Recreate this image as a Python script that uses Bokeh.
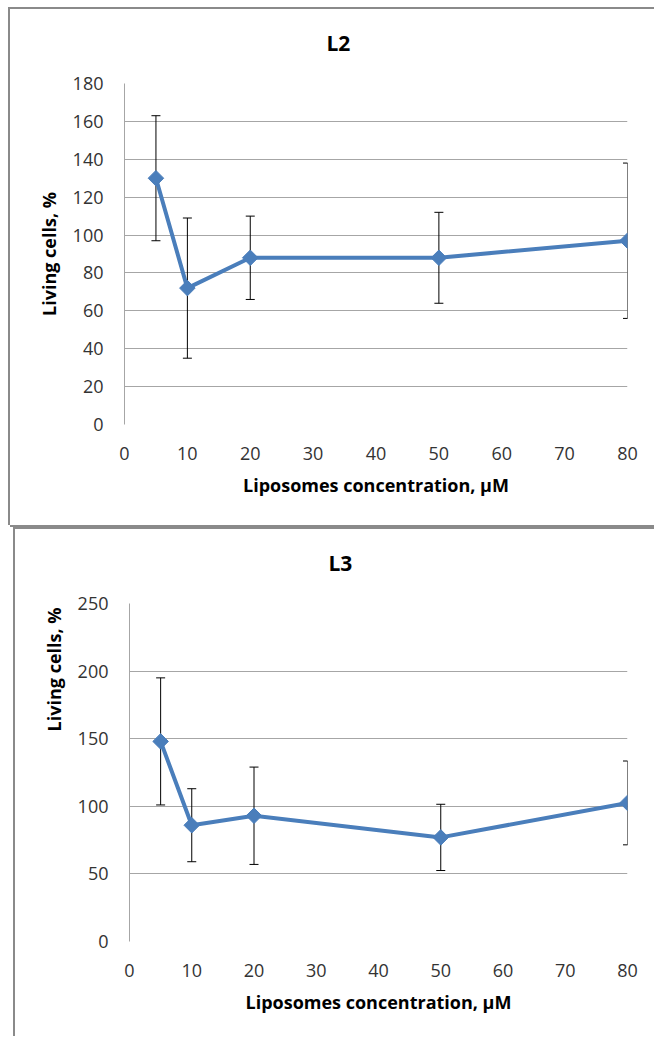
import numpy as np
from bokeh.plotting import figure
from bokeh.models import Range1d, FixedTicker, Title, ColumnDataSource
from bokeh.layouts import column
from bokeh.embed import file_html
from bokeh.resources import INLINE

# ---- data ----
conc = [5, 10, 20, 50, 80]
l2_mean = [130, 72, 88, 88, 97]
l2_err = [33, 37, 22, 24, 41]
l3_mean = [148, 86, 93, 77, 102.5]
l3_err = [47, 27, 36, 24.5, 31]
x_ticks = [0, 10, 20, 30, 40, 50, 60, 70, 80]
l2_y_ticks = [0, 20, 40, 60, 80, 100, 120, 140, 160, 180]
l3_y_ticks = [0, 50, 100, 150, 200, 250]
titles = ["L2", "L3"]
x_label = "Liposomes concentration, µM"
y_label = "Living cells, %"

BLUE = "#4A7EBB"
GRID = "#a6a6a6"
FONT = "Open Sans"
EDGE = "#8a8a8a"


def make_panel(title, mean, err, yticks, width, height, mb, title_off, ylab_align, ylab_off,
               shadow, margin):
    p = figure(width=width, height=height,
               x_range=Range1d(0, 80), y_range=Range1d(0, yticks[-1]),
               output_backend="svg", toolbar_location=None,
               min_border_left=mb[0], min_border_right=mb[1],
               min_border_top=mb[2], min_border_bottom=mb[3],
               styles={"box-shadow": shadow}, margin=margin)
    p.outline_line_color = None
    p.background_fill_color = "white"
    p.border_fill_color = "white"
    p.xgrid.grid_line_color = None
    p.ygrid.grid_line_color = GRID
    p.ygrid.grid_line_width = 1
    p.xaxis.ticker = FixedTicker(ticks=x_ticks)
    p.yaxis.ticker = FixedTicker(ticks=yticks)
    p.ygrid.ticker = FixedTicker(ticks=yticks)
    for ax in (p.xaxis[0], p.yaxis[0]):
        ax.major_tick_line_color = None
        ax.minor_tick_line_color = None
        ax.major_label_text_font = FONT
        ax.major_label_text_font_size = "18px"
        ax.major_label_text_color = "#333333"
    p.xaxis.axis_line_color = None
    p.yaxis.axis_line_color = GRID
    p.xaxis.major_label_standoff = 16
    p.yaxis.major_label_standoff = 15
    p.xaxis.axis_label = x_label
    p.xaxis.axis_label_text_font = FONT
    p.xaxis.axis_label_text_font_size = "18px"
    p.xaxis.axis_label_text_font_style = "bold"
    p.xaxis.axis_label_text_color = "black"
    p.xaxis.axis_label_standoff = 10

    m = np.array(mean, dtype=float)
    e = np.array(err, dtype=float)
    src = ColumnDataSource(dict(x=conc, y=m, lo=m - e, hi=m + e))
    p.segment(x0="x", y0="lo", x1="x", y1="hi", source=src, line_color="black", line_width=1)
    p.scatter(x="x", y="hi", marker="dash", size=9, source=src, line_color="black", line_width=1)
    p.scatter(x="x", y="lo", marker="dash", size=9, source=src, line_color="black", line_width=1)
    p.line(x="x", y="y", source=src, line_color=BLUE, line_width=4)
    p.scatter(x="x", y="y", marker="square", angle=np.pi / 4, size=11, source=src,
              fill_color=BLUE, line_color=BLUE)

    # spacer between the frame and the chart title
    p.add_layout(Title(text=" ", text_font_size="1px", standoff=14), "above")
    p.title = Title(text=title, align="left", offset=title_off, standoff=20,
                    text_font=FONT, text_font_size="21px", text_font_style="bold",
                    text_color="black")
    p.add_layout(Title(text=y_label, align=ylab_align, offset=ylab_off, standoff=17,
                       text_font=FONT, text_font_size="18px", text_font_style="bold",
                       text_color="black"), "left")
    return p


sh1 = f"-2px 0 0 0 {EDGE}, 0 -2px 0 0 {EDGE}, 0 2px 0 0 {EDGE}, -2px -2px 0 0 {EDGE}"
sh2 = f"-2px 0 0 0 {EDGE}, 0 -2px 0 0 {EDGE}, -2px -2px 0 0 {EDGE}"

p1 = make_panel(titles[0], l2_mean, l2_err, l2_y_ticks, 644, 516,
                (114, 24, 74, 101), 202, "center", 0, sh1, (9, 0, 4, 10))
p2 = make_panel(titles[1], l3_mean, l3_err, l3_y_ticks, 639, 507,
                (112, 27, 74, 95), 199, "right", 4, sh2, (0, 0, 0, 15))

layout = column(p1, p2)
open("out.html", "w").write(file_html(layout, INLINE))
